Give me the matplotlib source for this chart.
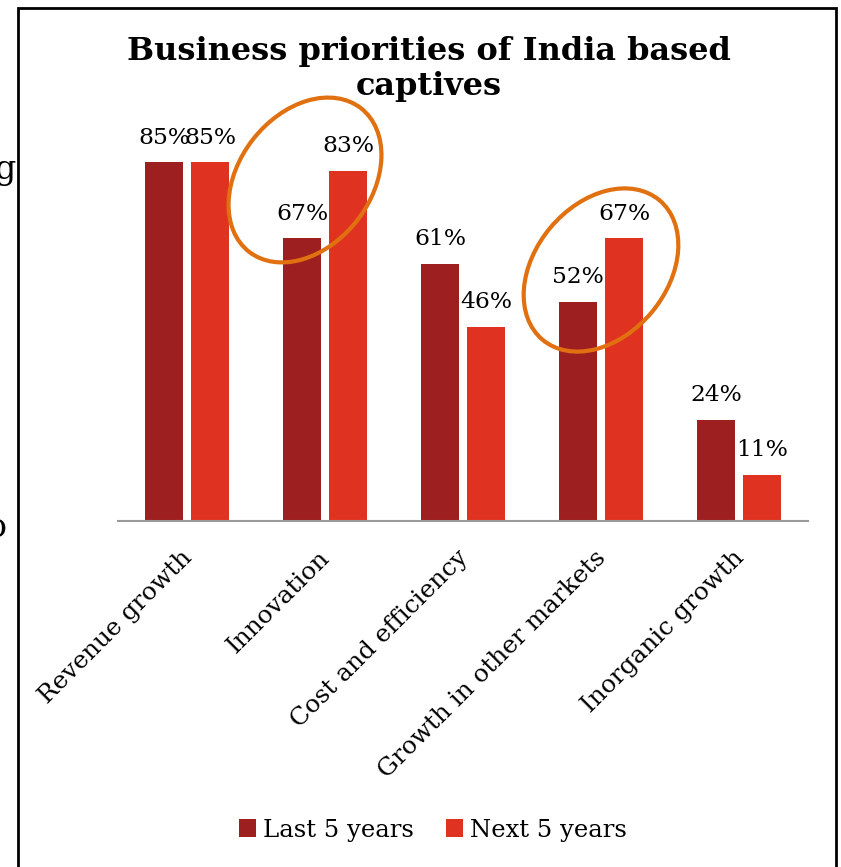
import matplotlib
matplotlib.use("Agg")
import matplotlib.pyplot as plt
from matplotlib.patches import Ellipse, Rectangle
import numpy as np

categories = ["Revenue growth", "Innovation", "Cost and efficiency",
              "Growth in other markets", "Inorganic growth"]
last5 = [85, 67, 61, 52, 24]
next5 = [85, 83, 46, 67, 11]
series_names = ["Last 5 years", "Next 5 years"]
title = "Business priorities of India based\ncaptives"

W, H = 841, 867
fig = plt.figure(figsize=(W/100, H/100), dpi=100)
serif = ["DejaVu Serif"]

def fx(px): return px / W
def fy(py): return 1 - py / H

ax = fig.add_axes([fx(118), fy(521), fx(808) - fx(118), fy(99) - fy(521)])
x = np.arange(len(categories))
w = 0.27
off = 0.167
c1, c2 = "#9E1F20", "#E03220"
b1 = ax.bar(x - off, last5, w, color=c1, label=series_names[0])
b2 = ax.bar(x + off, next5, w, color=c2, label=series_names[1])
ax.set_xlim(-0.5, len(categories) - 0.5)
ax.set_ylim(0, 100)
for bars, vals in ((b1, last5), (b2, next5)):
    for r, v in zip(bars, vals):
        ax.text(r.get_x() + r.get_width()/2, v + 3.2, f"{v}%", ha="center", va="bottom",
                fontsize=16.8, family=serif)
for s in ["top", "right", "left"]:
    ax.spines[s].set_visible(False)
ax.spines["bottom"].set_color("#999999")
ax.spines["bottom"].set_linewidth(1.5)
ax.set_yticks([])
ax.set_xticks(x - 0.05)
ax.set_xticklabels(categories, rotation=45, ha="right", rotation_mode="anchor",
                   fontsize=17.8, family=serif)
ax.tick_params(axis="x", length=0, pad=18)

fig.text(fx(429), fy(69), title, ha="center", va="center", fontsize=23,
         fontweight="bold", family=serif, linespacing=1.2)

leg = fig.legend(handles=[b1, b2], labels=series_names, loc="center",
                 bbox_to_anchor=(fx(433), fy(830)), ncol=2, frameon=False,
                 prop={"family": serif, "size": 17.5}, handlelength=0.7,
                 handleheight=0.7, handletextpad=0.3, columnspacing=1.3)

# ellipse highlights (pixel coords -> inches)
def P(px, py): return (px / 100, (H - py) / 100)
e1 = Ellipse(P(305, 180), width=1.82, height=1.32, angle=52,
             transform=fig.dpi_scale_trans, fill=False, edgecolor="#E07010", linewidth=3)
e2 = Ellipse(P(601, 270), width=1.82, height=1.32, angle=50,
             transform=fig.dpi_scale_trans, fill=False, edgecolor="#E07010", linewidth=3)
fig.patches.extend([e1, e2])

# outer frame
frame = Rectangle((fx(18), fy(900)), fx(836) - fx(18), fy(8) - fy(900),
                  transform=fig.transFigure, fill=False, edgecolor="black", linewidth=2)
fig.patches.append(frame)

# clipped fragments at left edge
fig.text(fx(16), fy(170), "g", ha="right", va="center", fontsize=24, family=serif)
fig.text(fx(6), fy(528), "o", ha="right", va="center", fontsize=24, family=serif)

fig.savefig("out.png", dpi=100)
